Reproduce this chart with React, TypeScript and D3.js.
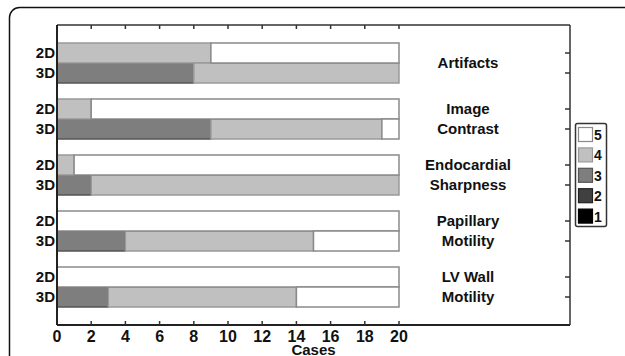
import React from "react";
import * as d3 from "d3";

const categories = ["Artifacts", "Image Contrast", "Endocardial Sharpness", "Papillary Motility", "LV Wall Motility"];
const labelLines = [["Artifacts"], ["Image", "Contrast"], ["Endocardial", "Sharpness"], ["Papillary", "Motility"], ["LV Wall", "Motility"]];
const modes = ["2D", "3D"];
const scoreKeys = ["1", "2", "3", "4", "5"];
const legendOrder = ["5", "4", "3", "2", "1"];
const xTicks = [0, 2, 4, 6, 8, 10, 12, 14, 16, 18, 20];

// cases per score, one value per category
const score1_2D = [0, 0, 0, 0, 0];
const score2_2D = [0, 0, 0, 0, 0];
const score3_2D = [0, 0, 0, 0, 0];
const score4_2D = [9, 2, 1, 0, 0];
const score5_2D = [11, 18, 19, 20, 20];
const score1_3D = [0, 0, 0, 0, 0];
const score2_3D = [0, 0, 0, 0, 0];
const score3_3D = [8, 9, 2, 4, 3];
const score4_3D = [12, 10, 18, 11, 11];
const score5_3D = [0, 1, 0, 5, 6];

const fills: Record<string, string> = { "5": "#ffffff", "4": "#c0c0c0", "3": "#7e7e7e", "2": "#404040", "1": "#000000" };
const strokes: Record<string, string> = { "5": "#8a8a8a", "4": "#9a9a9a", "3": "#555555", "2": "#222222", "1": "#000000" };

const font = "'Liberation Sans', Arial, sans-serif";

type Row = { cat: string; mode: string; [k: string]: any };

const rows: Row[] = [];
categories.forEach((cat, i) => {
  rows.push({ cat, mode: "2D", "1": score1_2D[i], "2": score2_2D[i], "3": score3_2D[i], "4": score4_2D[i], "5": score5_2D[i] });
  rows.push({ cat, mode: "3D", "1": score1_3D[i], "2": score2_3D[i], "3": score3_3D[i], "4": score4_3D[i], "5": score5_3D[i] });
});

export default function App() {
  const width = 625;
  const height = 356;
  const margin = { top: 25, right: 55, bottom: 31, left: 57 };
  const plotRight = width - margin.right;
  const plotBottom = height - margin.bottom;

  // 20 cases span 342px; the frame continues to the right for the labels
  const x = d3.scaleLinear().domain([0, 20]).range([margin.left, 399]);
  const y = d3.scaleBand().domain(categories).range([margin.top, plotBottom]).paddingInner(16 / 56).paddingOuter(0.3214);
  const yInner = d3.scaleBand().domain(modes).range([0, y.bandwidth()]);

  const series = d3.stack<Row>().keys(scoreKeys)(rows);

  const labelX = 468;

  return (
    <svg width={width} height={height} style={{ position: "absolute", left: 0, top: 0 }} fontFamily={font} fontWeight="bold">
      <rect x={0} y={0} width={width} height={height} fill="#fff" />
      <rect x={9.5} y={7.5} width={800} height={500} rx={10} fill="none" stroke="#111" strokeWidth={1.5} />

      {/* bars */}
      {series.map((s) => (
        <g key={s.key}>
          {s.map((d, i) =>
            d[1] - d[0] > 0 ? (
              <rect
                key={i}
                x={x(d[0])}
                y={(y(d.data.cat) ?? 0) + (yInner(d.data.mode) ?? 0)}
                width={x(d[1]) - x(d[0])}
                height={yInner.bandwidth()}
                fill={fills[s.key]}
                stroke={strokes[s.key]}
                strokeWidth={1.5}
              />
            ) : null
          )}
        </g>
      ))}

      {/* frame */}
      <line x1={margin.left} x2={plotRight} y1={margin.top} y2={margin.top} stroke="#333" strokeWidth={1.5} />
      <line x1={plotRight} x2={plotRight} y1={margin.top} y2={plotBottom} stroke="#333" strokeWidth={1.5} />
      <line x1={margin.left} x2={plotRight} y1={plotBottom} y2={plotBottom} stroke="#222" strokeWidth={2} />
      <line x1={margin.left} x2={margin.left} y1={margin.top} y2={plotBottom} stroke="#222" strokeWidth={2} />

      {/* x ticks */}
      {xTicks.map((t) => (
        <g key={t}>
          {t > 0 && <line x1={x(t)} x2={x(t)} y1={margin.top} y2={margin.top + 4} stroke="#333" strokeWidth={1.5} />}
          {t > 0 && <line x1={x(t)} x2={x(t)} y1={plotBottom} y2={plotBottom - 4} stroke="#333" strokeWidth={1.5} />}
          <text x={x(t)} y={plotBottom + 17} textAnchor="middle" fontSize={16} fill="#111">
            {t}
          </text>
        </g>
      ))}
      <text x={(margin.left + plotRight) / 2} y={height - 1} textAnchor="middle" fontSize={15} fill="#111">
        Cases
      </text>

      {/* row labels and right ticks */}
      {categories.map((cat, ci) => (
        <g key={cat}>
          {modes.map((m) => {
            const cy = (y(cat) ?? 0) + (yInner(m) ?? 0) + yInner.bandwidth() / 2;
            return (
              <g key={m}>
                <text x={55} y={cy + 5} textAnchor="end" fontSize={15} fill="#111">
                  {m}
                </text>
                <line x1={plotRight} x2={plotRight - 5} y1={cy} y2={cy} stroke="#333" strokeWidth={1.5} />
              </g>
            );
          })}
          {labelLines[ci].map((ln, li) => {
            const n = labelLines[ci].length;
            const mid = (y(cat) ?? 0) + y.bandwidth() / 2;
            const cy = n === 1 ? mid : (y(cat) ?? 0) + (yInner(modes[li]) ?? 0) + yInner.bandwidth() / 2;
            return (
              <text key={li} x={labelX} y={cy + 5} textAnchor="middle" fontSize={15} fill="#111">
                {ln}
              </text>
            );
          })}
        </g>
      ))}

      {/* legend */}
      <rect x={575.5} y={123.5} width={31} height={103} rx={2} fill="#fff" stroke="#333" strokeWidth={1.5} />
      {legendOrder.map((k, i) => (
        <g key={k}>
          <rect x={578.5} y={127.5 + i * 20.4} width={14} height={14} fill={fills[k]} stroke={strokes[k]} strokeWidth={1.2} />
          <text x={594} y={140 + i * 20.4} fontSize={14} fill="#111">
            {k}
          </text>
        </g>
      ))}
    </svg>
  );
}
